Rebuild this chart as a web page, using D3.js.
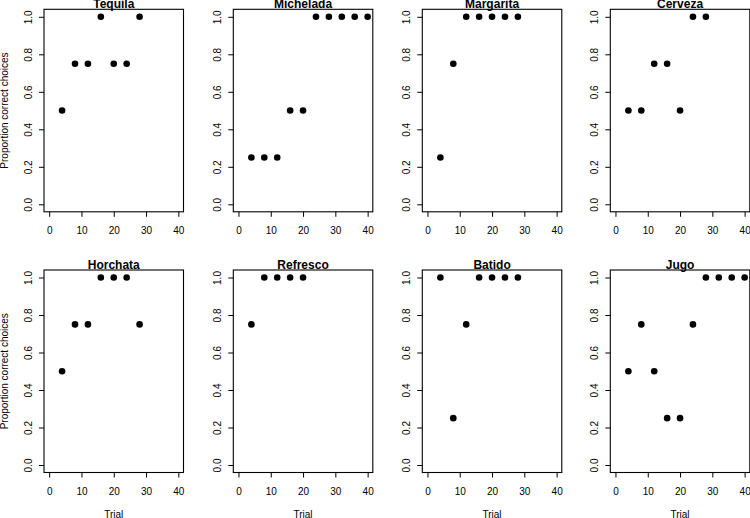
<!DOCTYPE html>
<html>
<head>
<meta charset="utf-8">
<script src="https://cdn.jsdelivr.net/npm/d3@7"></script>
<style>
  body { margin: 0; background: #fff; }
  svg text { font-family: "Liberation Sans", Arial, Helvetica, sans-serif; fill: #000; }
</style>
</head>
<body>
<div id="chart"></div>
<script>
// Data
var drinks = ["Tequila", "Michelada", "Margarita", "Cerveza", "Horchata", "Refresco", "Batido", "Jugo"];
var trials = [4, 8, 12, 16, 20, 24, 28, 32, 36, 40];
var tequila   = [0.5, 0.75, 0.75, 1, 0.75, 0.75, 1];
var michelada = [0.25, 0.25, 0.25, 0.5, 0.5, 1, 1, 1, 1, 1];
var margarita = [0.25, 0.75, 1, 1, 1, 1, 1];
var cerveza   = [0.5, 0.5, 0.75, 0.75, 0.5, 1, 1];
var horchata  = [0.5, 0.75, 0.75, 1, 1, 1, 0.75];
var refresco  = [0.75, 1, 1, 1, 1];
var batido    = [1, 0.25, 0.75, 1, 1, 1, 1];
var jugo      = [0.5, 0.75, 0.5, 0.25, 0.25, 0.75, 1, 1, 1, 1];
var series = [tequila, michelada, margarita, cerveza, horchata, refresco, batido, jugo];
var xTicks = [0, 10, 20, 30, 40];
var yTicks = [0, 0.2, 0.4, 0.6, 0.8, 1.0];

// Size
var W = 750, H = 518,
    boxW = 139.5, boxH = 202.5,
    colLeft = [44, 233.3, 422.3, 610.3],
    rowTop = [9.3, 270];

var svg = d3.select("#chart").append("svg")
  .attr("width", W)
  .attr("height", H);

// R style 4% padding around the limits
var xScale = d3.scaleLinear().domain([-1.6, 41.6]).range([0, boxW]),
    yScale = d3.scaleLinear().domain([-0.04, 1.04]).range([boxH, 0]);

drinks.forEach(function(name, i) {
  var row = Math.floor(i / 4), col = i % 4;
  var g = svg.append("g")
    .attr("transform", "translate(" + colLeft[col] + "," + rowTop[row] + ")");

  var pts = series[i].map(function(v, j) { return {x: trials[j], y: v}; });

  // x axis
  var xa = g.append("g")
    .attr("transform", "translate(0," + boxH + ")")
    .call(d3.axisBottom(xScale).tickValues(xTicks).tickSize(5).tickSizeOuter(0).tickFormat(d3.format("d")));
  xa.select(".domain").remove();
  xa.selectAll("line").attr("stroke", "#000");
  xa.selectAll("text")
    .attr("y", 22).attr("dy", null)
    .attr("font-size", "10px");

  // y axis
  var ya = g.append("g")
    .call(d3.axisLeft(yScale).tickValues(yTicks).tickSize(5).tickSizeOuter(0).tickFormat(d3.format(".1f")));
  ya.select(".domain").remove();
  ya.selectAll("line").attr("stroke", "#000");
  ya.selectAll("text")
    .attr("x", 0).attr("y", -12.5).attr("dy", null)
    .attr("transform", "rotate(-90)")
    .attr("text-anchor", "middle")
    .attr("font-size", "10px");

  // box
  g.append("rect")
    .attr("width", boxW)
    .attr("height", boxH)
    .attr("fill", "none")
    .attr("stroke", "#000")
    .attr("stroke-width", 1.1);

  // points
  g.selectAll("circle")
    .data(pts)
    .enter().append("circle")
    .attr("cx", function(d) { return xScale(d.x); })
    .attr("cy", function(d) { return yScale(d.y); })
    .attr("r", 3.3)
    .attr("fill", "#000");

  // title
  g.append("text")
    .attr("x", boxW / 2)
    .attr("y", -1)
    .attr("text-anchor", "middle")
    .attr("font-size", "12px")
    .attr("font-weight", "bold")
    .text(name);

  if (col == 0) {
    g.append("text")
      .attr("transform", "translate(-36," + (boxH / 2) + ") rotate(-90)")
      .attr("text-anchor", "middle")
      .attr("font-size", "10px")
      .text("Proportion correct choices");
  }
  if (row == 1) {
    g.append("text")
      .attr("x", boxW / 2)
      .attr("y", boxH + 45.5)
      .attr("text-anchor", "middle")
      .attr("font-size", "10px")
      .text("Trial");
  }
});
</script>
</body>
</html>
